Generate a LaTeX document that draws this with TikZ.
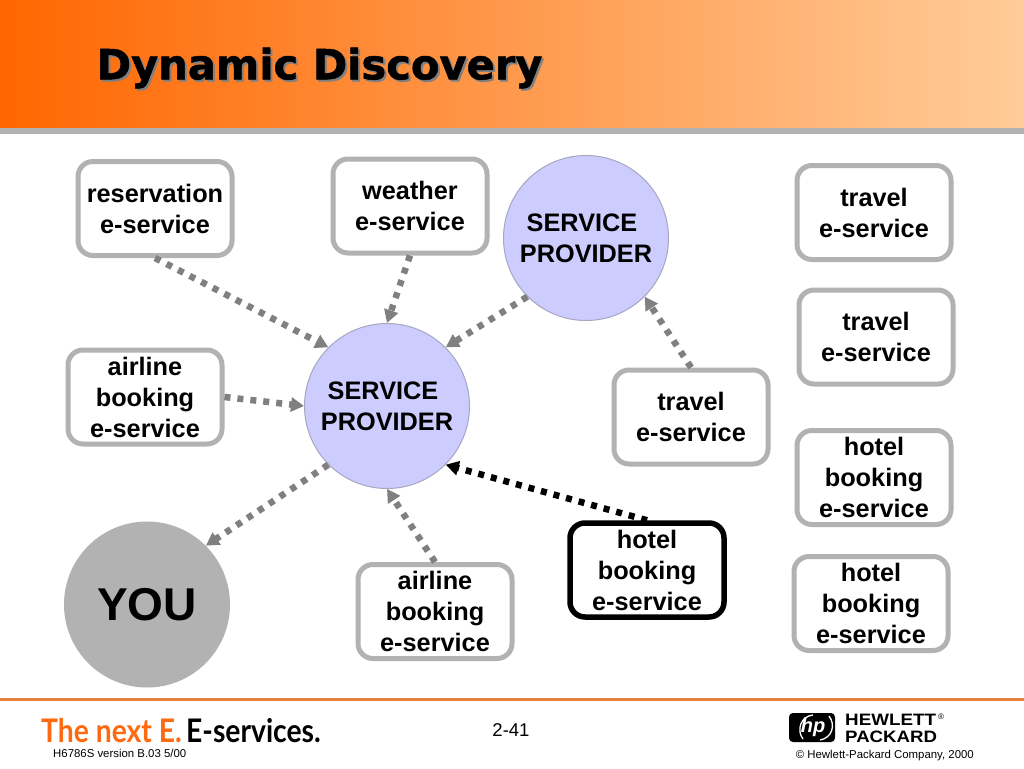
\documentclass[tikz,border=0pt]{standalone}
\usepackage{fontspec}
\setmainfont{Liberation Sans}
\newfontfamily\titlefont{DejaVu Sans Bold}[FakeBold=1.2]
\newfontfamily\tagfont{Lato}
\usetikzlibrary{arrows.meta}
\definecolor{boxgray}{HTML}{B2B2B2}
\definecolor{flowgray}{HTML}{808080}
\definecolor{provider}{HTML}{CCCCFF}
\definecolor{provideredge}{HTML}{A6A6C0}
\definecolor{headL}{HTML}{FF6600}
\definecolor{headR}{HTML}{FFCC99}
\definecolor{footline}{HTML}{E8823A}
\definecolor{tagorange}{HTML}{FF6A10}
\tikzset{
  servicebox/.style={draw=boxgray,line width=5pt,rounded corners=15pt,fill=white,
    minimum width=154pt,minimum height=94pt,inner sep=0pt,align=center,text depth=-2.7pt,
    font=\fontsize{25.3}{31}\selectfont\bfseries},
  activebox/.style={servicebox,draw=black,line width=5.5pt},
  providernode/.style={circle,draw=provideredge,line width=1pt,fill=provider,minimum size=165pt,
    inner sep=0pt,align=center,text depth=-1.7pt,font=\fontsize{25.3}{30.5}\selectfont\bfseries},
  younode/.style={circle,fill=boxgray,minimum size=166pt,inner sep=0pt,
    font=\fontsize{46}{50}\selectfont\bfseries},
  flow/.style={draw=flowgray,line width=6.5pt,dash pattern=on 6pt off 7pt,
    -{Triangle[length=13pt,width=14pt,fill=flowgray]}},
  activeflow/.style={flow,draw=black,-{Triangle[length=13pt,width=14pt,fill=black]}},
  small/.style={inner sep=0pt,font=\fontsize{11.4}{13}\selectfont}
}
\begin{document}
\begin{tikzpicture}[x=1pt,y=-1pt]
\useasboundingbox (0,0) rectangle (1024,768);
\fill[white] (0,0) rectangle (1024,768);
% header
\shade[left color=headL,right color=headR] (0,0) rectangle (1024,128);
\fill[boxgray] (0,128) rectangle (1024,134);
\node[inner sep=0pt,text=flowgray,font=\titlefont\fontsize{41.6}{44}\selectfont] (titleshadow) at (321.5,70) {Dynamic Discovery};
\node[inner sep=0pt,text=black,font=\titlefont\fontsize{41.6}{44}\selectfont] (title) at (319.5,68) {Dynamic Discovery};
% nodes
\node[providernode] (sptwo) at (586,238) {SERVICE\hspace*{8pt}\\PROVIDER};
\node[providernode] (spone) at (387,406) {SERVICE\hspace*{8pt}\\PROVIDER};
\node[younode] (you) at (147,604.5) {YOU};
\node[servicebox] (res) at (155,208.5) {reservation\\e-service};
\node[servicebox] (wea) at (410,206) {weather\\e-service};
\node[servicebox] (airone) at (145,397) {airline\\booking\\e-service};
\node[servicebox] (airtwo) at (435,611.5) {airline\\booking\\e-service};
\node[servicebox] (trathree) at (691,417) {travel\\e-service};
\node[activebox] (hotactive) at (647,570) {hotel\\booking\\e-service};
\node[servicebox] (traone) at (874,212.5) {travel\\e-service};
\node[servicebox] (tratwo) at (876,337) {travel\\e-service};
\node[servicebox] (hotone) at (874,477.5) {hotel\\booking\\e-service};
\node[servicebox] (hottwo) at (871,603.5) {hotel\\booking\\e-service};
% connectors
\draw[flow] (res.south) -- (spone.135);
\draw[flow] (wea.south) -- (spone.north);
\draw[flow] (sptwo.225) -- (spone.45);
\draw[flow] (airone.east) -- (spone.west);
\draw[flow] (trathree.north) -- (sptwo.-45);
\draw[flow] (spone.225) -- (you.45);
\draw[flow] (airtwo.north) -- (spone.south);
\draw[activeflow] (hotactive.north) -- (spone.-45);
% footer
\fill[footline] (0,698) rectangle (1024,701);
\node[anchor=base west,inner sep=0pt,text=tagorange,font=\tagfont\bfseries\fontsize{32.5}{34}\selectfont] (tagone) at (41,742) {\scalebox{0.87}[1]{The next E.}};
\node[anchor=base west,inner sep=0pt,text=black,font=\tagfont\bfseries\fontsize{32.5}{34}\selectfont] (tagtwo) at (186,742) {\scalebox{0.87}[1]{E-services.}};
\node[small,anchor=west] (version) at (53,753.5) {H6786S version B.03 5/00};
\node[inner sep=0pt,font=\fontsize{18.5}{20}\selectfont] (page) at (511,730.5) {2-41};
% hp logo
\fill[black,rounded corners=4pt] (789,713) rectangle (835,742);
\draw[white,line width=1.3pt] (803,739) .. controls (796,730) and (801,716) .. (813,715);
\draw[white,line width=1.3pt] (820,740) .. controls (832,738) and (836,725) .. (829,716);
\node[inner sep=0pt,text=white,font=\fontsize{20}{22}\selectfont\bfseries\itshape] (hpmark) at (813,727) {hp};
\node[anchor=base west,inner sep=0pt,font=\fontsize{16.5}{18}\selectfont\bfseries] (hewlett) at (845,725) {\scalebox{1.14}[1]{HEWLETT}};
\node[anchor=base west,inner sep=0pt,font=\fontsize{16.5}{18}\selectfont\bfseries] (packard) at (845,742) {\scalebox{1.13}[1]{PACKARD}};
\node[anchor=west,inner sep=0pt,font=\fontsize{8}{9}\selectfont] (reg) at (938,716.5) {®};
\node[small,anchor=east] (copy) at (974,756) {© Hewlett-Packard Company, 2000};
\end{tikzpicture}
\end{document}
